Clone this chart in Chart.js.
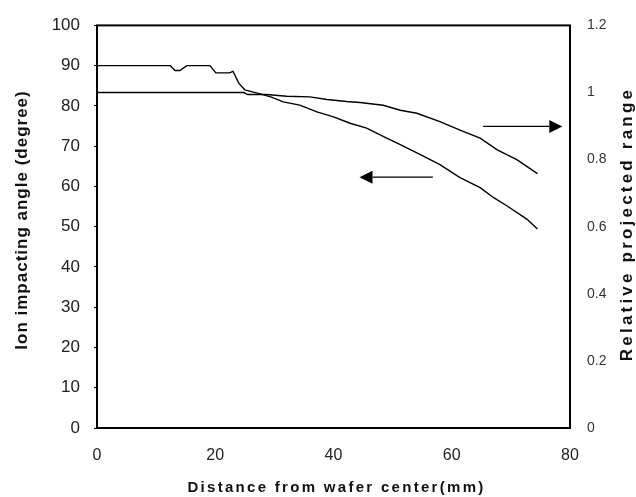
<!DOCTYPE html>
<html>
<head>
<meta charset="utf-8">
<script src="https://cdn.jsdelivr.net/npm/chart.js@4.4.1/dist/chart.umd.min.js"></script>
<style>
html,body{margin:0;padding:0;background:#fff;}
#wrap{width:636px;height:497px;position:relative;}
</style>
</head>
<body>
<div id="wrap"><canvas id="c" width="636" height="497"></canvas></div>
<script>
// Ion impacting angle (left axis, degree)
const angleX = [0, 12.4, 13.2, 14.0, 15.2, 19.1, 20.1, 22.4, 23.0, 24.0, 25.0, 27.6, 29.5, 31.5, 34.3, 37.2, 40.0, 42.8, 45.6, 49.0, 51.3, 54.7, 58.0, 61.4, 64.8, 67.1, 69.3, 72.7, 74.5];
const angleY = [90, 90, 88.8, 88.8, 90, 90, 88.2, 88.2, 88.6, 85.6, 84.0, 83.0, 82.2, 81.0, 80.2, 78.5, 77.3, 75.7, 74.5, 72.0, 70.4, 67.9, 65.4, 62.2, 59.7, 57.2, 55.2, 51.9, 49.4];
// Relative projected range (right axis)
const rangeX = [0, 24.8, 25.5, 28.7, 32.1, 36.0, 38.9, 42.2, 44.5, 48.4, 51.3, 54.1, 58.0, 61.4, 64.8, 67.7, 71.0, 74.5];
const rangeY = [1.0, 1.0, 0.994, 0.994, 0.989, 0.987, 0.979, 0.973, 0.970, 0.962, 0.947, 0.938, 0.913, 0.888, 0.864, 0.829, 0.800, 0.758];
// Tick settings
const xTicks = {min: 0, max: 80, step: 20};
const yTicks = {min: 0, max: 100, step: 10};
const y1Ticks = {min: 0, max: 1.2, step: 0.2};
// Arrows (data units on x and left axis): [fromX, toX, y]
const arrowRight = [65.3, 78.7, 74.9];
const arrowLeft = [56.8, 44.4, 62.3];
// Titles
const xTitle = 'Distance from wafer center(mm)';
const yTitle = 'Ion impacting angle (degree)';
const y1Title = 'Relative projected range';

const FONT = "'Liberation Sans', Arial, Helvetica, sans-serif";

function pts(xs, ys){ return xs.map((x,i)=>({x:x, y:ys[i]})); }

const decor = {
  id: 'decor',
  afterDraw(chart){
    const ctx = chart.ctx;
    const a = chart.chartArea;
    const xs = chart.scales.x, ys = chart.scales.y;
    ctx.save();
    // frame
    ctx.strokeStyle = '#000';
    ctx.lineWidth = 2;
    ctx.strokeRect(a.left, a.top, a.right - a.left, a.bottom - a.top);
    // arrows
    function arrow(fx, tx, yv){
      const x0 = xs.getPixelForValue(fx), x1 = xs.getPixelForValue(tx), y = ys.getPixelForValue(yv);
      const dir = Math.sign(x1 - x0);
      const hl = 13, hw = 6.5;
      ctx.lineWidth = 1.2;
      ctx.beginPath();
      ctx.moveTo(x0, y);
      ctx.lineTo(x1 - dir*hl, y);
      ctx.stroke();
      ctx.beginPath();
      ctx.moveTo(x1, y);
      ctx.lineTo(x1 - dir*hl, y - hw);
      ctx.lineTo(x1 - dir*hl, y + hw);
      ctx.closePath();
      ctx.fillStyle = '#000';
      ctx.fill();
    }
    arrow(arrowRight[0], arrowRight[1], arrowRight[2]);
    arrow(arrowLeft[0], arrowLeft[1], arrowLeft[2]);
    // titles
    ctx.fillStyle = '#111';
    ctx.textAlign = 'center';
    ctx.textBaseline = 'middle';
    ctx.font = 'bold 15px ' + FONT;
    ctx.letterSpacing = '2.3px';
    ctx.fillText(xTitle, (a.left + a.right)/2 + 3, 488);
    ctx.save();
    ctx.translate(22, 220);
    ctx.rotate(-Math.PI/2);
    ctx.font = 'bold 17px ' + FONT;
    ctx.letterSpacing = '1px';
    ctx.fillText(yTitle, 0, 0);
    ctx.restore();
    ctx.save();
    ctx.translate(627, 224);
    ctx.rotate(-Math.PI/2);
    ctx.font = 'bold 17px ' + FONT;
    ctx.letterSpacing = '3.2px';
    ctx.fillText(y1Title, 0, 0);
    ctx.restore();
    ctx.restore();
  }
};

new Chart(document.getElementById('c'), {
  type: 'scatter',
  data: {
    datasets: [
      {label: 'angle', data: pts(angleX, angleY), yAxisID: 'y', showLine: true, borderColor: '#000', borderWidth: 1.4, pointRadius: 0, tension: 0, fill: false},
      {label: 'range', data: pts(rangeX, rangeY), yAxisID: 'y1', showLine: true, borderColor: '#000', borderWidth: 1.4, pointRadius: 0, tension: 0, fill: false}
    ]
  },
  options: {
    responsive: false,
    animation: false,
    layout: {padding: {top: 21, left: 0, right: 0, bottom: 0}},
    plugins: {legend: {display: false}, tooltip: {enabled: false}},
    scales: {
      x: {
        type: 'linear', position: 'bottom', min: xTicks.min, max: xTicks.max,
        ticks: {stepSize: xTicks.step, color: '#222', font: {family: FONT, size: 16}, padding: 18, maxRotation: 0},
        grid: {display: false, drawTicks: false},
        border: {display: false},
        afterFit(s){ s.height = 69; }
      },
      y: {
        type: 'linear', position: 'left', min: yTicks.min, max: yTicks.max,
        ticks: {stepSize: yTicks.step, color: '#222', font: {family: FONT, size: 17}, padding: 14},
        grid: {display: true, drawOnChartArea: false, drawTicks: true, tickLength: 3, color: '#000'},
        border: {display: false},
        afterFit(s){ s.width = 97; }
      },
      y1: {
        type: 'linear', position: 'right', min: y1Ticks.min, max: y1Ticks.max,
        ticks: {stepSize: y1Ticks.step, color: '#333', font: {family: FONT, size: 14}, padding: 17,
          callback: (v) => String(Math.round(v * 10) / 10)},
        grid: {display: false, drawTicks: false},
        border: {display: false},
        afterFit(s){ s.width = 66; }
      }
    }
  },
  plugins: [decor]
});
</script>
</body>
</html>
